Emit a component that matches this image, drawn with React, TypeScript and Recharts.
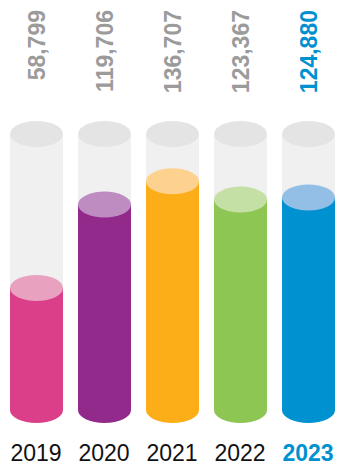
import React from 'react';
import { BarChart, Bar, XAxis, YAxis, Cell, LabelList } from 'recharts';

const years = ['2019', '2020', '2021', '2022', '2023'];
const visitors = [58799, 119706, 136707, 123367, 124880];
const bodyColors = ['#dc3f89', '#922a8c', '#fbae17', '#8dc653', '#0091d0'];
const capColors = ['#e8a1bf', '#be8cc0', '#fdd28f', '#c4e0a5', '#93bfe6'];
const labelColors = ['#9b9b9b', '#9b9b9b', '#9b9b9b', '#9b9b9b', '#0091d0'];

// the tubes are not drawn from zero in the original, so the axis starts below it
const AXIS_MIN = -30400;
const AXIS_MAX = 171300;

const data = years.map((year, i) => ({ year, value: visitors[i] }));

const RY = 13;

const Cylinder = (props: any) => {
  const { x, y, width, height, index } = props;
  const cx = x + width / 2;
  const rx = width / 2;
  return (
    <g>
      <ellipse cx={cx} cy={y + height} rx={rx} ry={RY} fill={bodyColors[index]} />
      <rect x={x} y={y} width={width} height={height} fill={bodyColors[index]} />
      <ellipse cx={cx} cy={y} rx={rx} ry={RY} fill={capColors[index]} />
    </g>
  );
};

const Tube = (props: any) => {
  const { x, y, width, height } = props;
  const cx = x + width / 2;
  const rx = width / 2;
  return (
    <g>
      <rect x={x} y={y} width={width} height={height} fill="#f0f0f0" />
      <ellipse cx={cx} cy={y} rx={rx} ry={RY} fill="#e4e4e4" />
    </g>
  );
};

const ValueLabel = (props: any) => {
  const { x, width, value, index } = props;
  const cx = x + width / 2;
  return (
    <text
      x={cx}
      y={10}
      transform={`rotate(-90, ${cx}, 10)`}
      textAnchor="end"
      dominantBaseline="central"
      fontSize={23}
      fontWeight="bold"
      fill={labelColors[index]}
      fontFamily="'Liberation Sans', Arial, sans-serif"
    >
      {value.toLocaleString('en-US')}
    </text>
  );
};

const YearTick = (props: any) => {
  const { x, y, payload, index } = props;
  const last = index === years.length - 1;
  return (
    <text
      x={x}
      y={y + 51}
      textAnchor="middle"
      fontSize={23}
      fontWeight={last ? 'bold' : 'normal'}
      fill={last ? '#0091d0' : '#111111'}
      fontFamily="'Liberation Sans', Arial, sans-serif"
    >
      {payload.value}
    </text>
  );
};

const App = () => {
  return (
    <div style={{ position: 'absolute', left: 0, top: 0, width: 337, height: 466, overflow: 'hidden', background: '#fff' }}>
      <BarChart
        width={345}
        height={466}
        data={data}
        margin={{ top: 134, right: 3, left: 2, bottom: 0 }}
        barSize={53}
      >
        <XAxis
          dataKey="year"
          axisLine={false}
          tickLine={false}
          tickSize={0}
          tickMargin={0}
          height={56}
          interval={0}
          tick={<YearTick />}
        />
        <YAxis hide domain={[AXIS_MIN, AXIS_MAX]} />
        <Bar
          dataKey={(d: any) => [AXIS_MIN, d.value]}
          shape={<Cylinder />}
          background={<Tube />}
          isAnimationActive={false}
        >
          {data.map((d, i) => (
            <Cell key={d.year} fill={bodyColors[i]} />
          ))}
          <LabelList dataKey="value" content={<ValueLabel />} />
        </Bar>
      </BarChart>
    </div>
  );
};

export default App;
